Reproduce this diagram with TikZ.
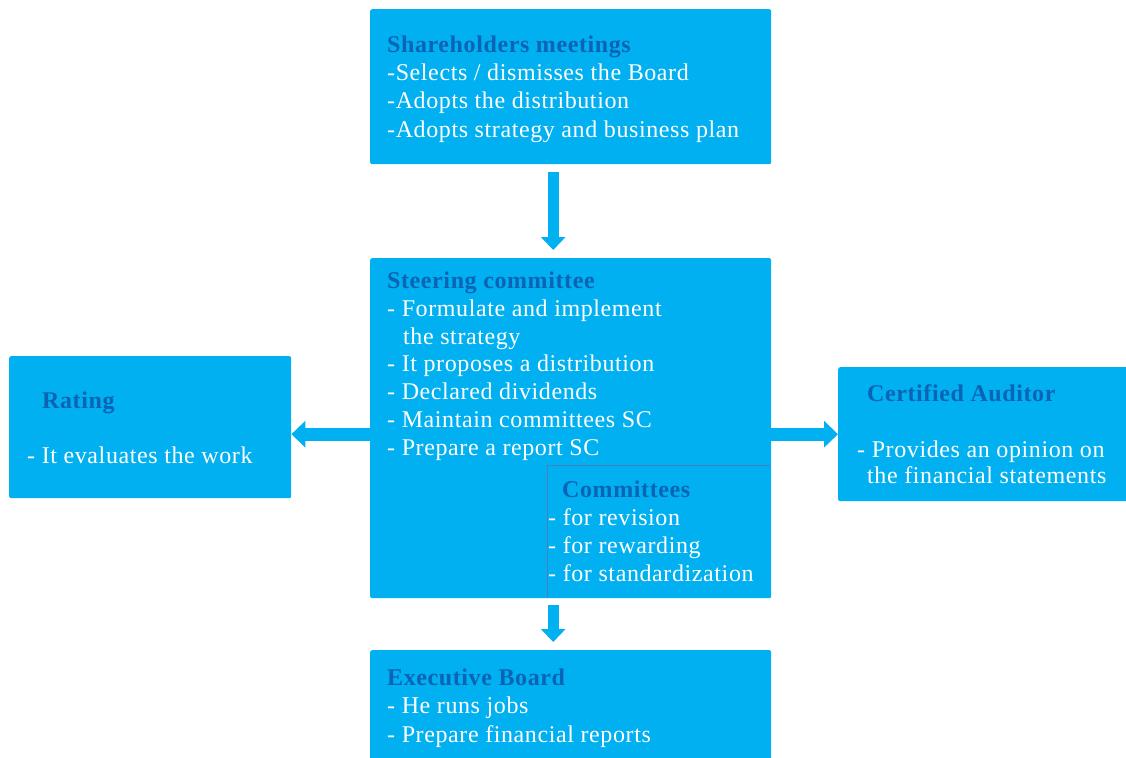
\documentclass[tikz,border=0pt]{standalone}
\usepackage{fontspec}
\setmainfont{Liberation Serif}[LetterSpace=2.5]
\usetikzlibrary{arrows.meta}
\definecolor{boxblue}{HTML}{00B0F0}
\definecolor{titleblue}{HTML}{0B63B5}
\definecolor{subline}{HTML}{4A7FBE}
\tikzset{
  box/.style={fill=boxblue, draw=none, rounded corners=2pt, inner sep=0pt, anchor=north west},
  ttl/.style={anchor=base west, inner sep=0pt, text=titleblue, font=\fontsize{24}{28}\selectfont\bfseries},
  txt/.style={anchor=base west, inner sep=0pt, text=white, font=\fontsize{24}{28}\selectfont},
  bigarrow/.style={draw=boxblue, line width=11pt, -{Triangle[width=24pt,length=13pt]}},
  sidearrow/.style={draw=boxblue, line width=13pt, -{Triangle[width=26pt,length=14pt]}}
}
\begin{document}
\begin{tikzpicture}[x=1pt,y=-1pt]
\useasboundingbox (0,0) rectangle (1126,757);
\clip (0,0) rectangle (1126,757);
% boxes
\node[box, minimum width=401pt, minimum height=155pt] (share) at (370,9) {};
\node[box, minimum width=401pt, minimum height=340pt] (steer) at (370,258) {};
\node[box, minimum width=282pt, minimum height=142pt] (rating) at (9,356) {};
\node[box, minimum width=300pt, minimum height=134pt] (audit) at (838,367) {};
\node[box, minimum width=401pt, minimum height=130pt] (exec) at (370,650) {};
\coordinate (comtl) at (547,465);
\coordinate (comtr) at (770,465);
\coordinate (combl) at (547,598);
\draw[subline, line width=0.8pt] (comtr) -- (comtl) -- (combl);
% arrows
\draw[bigarrow] ([xshift=-17.5pt,yshift=-8pt]share.south) -- ([xshift=-17.5pt,yshift=8pt]steer.north);
\draw[bigarrow] ([xshift=-17.5pt,yshift=-7pt]steer.south) -- ([xshift=-17.5pt,yshift=8pt]exec.north);
\draw[sidearrow] ([yshift=-6pt]steer.west) -- ([yshift=-6pt]steer.west -| rating.east);
\draw[sidearrow] ([yshift=-6pt]steer.east) -- ([yshift=-6pt]steer.east -| audit.west);
% shareholders
\node[ttl] (s0) at (387,53) {Shareholders meetings};
\node[txt] (s1) at (387,81) {-Selects / dismisses the Board};
\node[txt] (s2) at (387,109) {-Adopts the distribution};
\node[txt] (s3) at (387,137) {-Adopts strategy and business plan};
% steering
\node[ttl] (c0) at (387,288) {Steering committee};
\node[txt] (c1) at (387,316) {- Formulate and implement};
\node[txt] (c2) at (403,344) {the strategy};
\node[txt] (c3) at (387,371) {- It proposes a distribution};
\node[txt] (c4) at (387,399) {- Declared dividends};
\node[txt] (c5) at (387,427) {- Maintain committees SC};
\node[txt] (c6) at (387,455) {- Prepare a report SC};
% committees
\node[ttl] (m0) at (562,497) {Committees};
\node[txt] (m1) at (548,525) {- for revision};
\node[txt] (m2) at (548,553) {- for rewarding};
\node[txt] (m3) at (548,581) {- for standardization};
% rating
\node[ttl] (r0) at (42,408) {Rating};
\node[txt] (r1) at (27,463) {- It evaluates the work};
% auditor
\node[ttl] (a0) at (867,401) {Certified Auditor};
\node[txt] (a1) at (857,457) {- Provides an opinion on};
\node[txt] (a2) at (867,483) {the financial statements};
% executive
\node[ttl] (e0) at (387,685) {Executive Board};
\node[txt] (e1) at (387,713) {- He runs jobs};
\node[txt] (e2) at (387,742) {- Prepare financial reports};
\end{tikzpicture}
\end{document}
